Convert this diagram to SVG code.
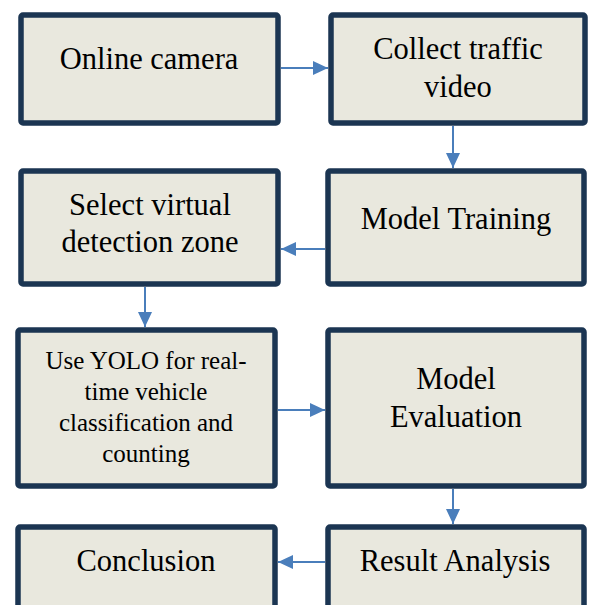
<svg xmlns="http://www.w3.org/2000/svg" width="589" height="605" viewBox="0 0 589 605">
<style>
.box{fill:#E9E8DE;stroke:#1B3552;stroke-width:5.5}
.t{font-family:"Liberation Serif","Times New Roman",serif;font-size:30.5px;fill:#000;text-anchor:middle}
.s{font-size:25px}
.c{stroke:#4A7EBB;stroke-width:2;fill:none}
</style>
<defs>
<marker id="ah" markerUnits="userSpaceOnUse" markerWidth="16" markerHeight="16" refX="15" refY="8" orient="auto">
<path d="M0,1 L15,8 L0,15 Z" fill="#4A7EBB"/>
</marker>
</defs>
<rect width="589" height="605" fill="#fff"/>
<g id="connectors">
<line class="c" x1="281" y1="68" x2="328" y2="68" marker-end="url(#ah)"/>
<line class="c" x1="453" y1="126" x2="453" y2="168" marker-end="url(#ah)"/>
<line class="c" x1="325" y1="249" x2="281" y2="249" marker-end="url(#ah)"/>
<line class="c" x1="145" y1="287" x2="145" y2="327" marker-end="url(#ah)"/>
<line class="c" x1="278" y1="410" x2="325" y2="410" marker-end="url(#ah)"/>
<line class="c" x1="453" y1="489" x2="453" y2="524" marker-end="url(#ah)"/>
<line class="c" x1="325" y1="562" x2="278" y2="562" marker-end="url(#ah)"/>
</g>
<g id="online-camera">
<rect class="box" x="21" y="15" width="257" height="108" rx="2"/>
<text class="t" x="149" y="69">Online camera</text>
</g>
<g id="collect-traffic-video">
<rect class="box" x="331" y="15" width="254" height="108" rx="2"/>
<text class="t" x="458" y="59">Collect traffic</text>
<text class="t" x="458" y="97">video</text>
</g>
<g id="select-zone">
<rect class="box" x="21" y="171" width="257" height="113" rx="2"/>
<text class="t" x="150" y="215">Select virtual</text>
<text class="t" x="150" y="252">detection zone</text>
</g>
<g id="model-training">
<rect class="box" x="328" y="171" width="256" height="113" rx="2"/>
<text class="t" x="456" y="229">Model Training</text>
</g>
<g id="use-yolo">
<rect class="box" x="18" y="330" width="257" height="156" rx="2"/>
<text class="t s" x="146" y="369">Use YOLO for real-</text>
<text class="t s" x="146" y="400">time vehicle</text>
<text class="t s" x="146" y="431">classification and</text>
<text class="t s" x="146" y="462">counting</text>
</g>
<g id="model-evaluation">
<rect class="box" x="328" y="330" width="256" height="156" rx="2"/>
<text class="t" x="456" y="389">Model</text>
<text class="t" x="456" y="427">Evaluation</text>
</g>
<g id="conclusion">
<rect class="box" x="18" y="527" width="257" height="95" rx="2"/>
<text class="t" x="146" y="571">Conclusion</text>
</g>
<g id="result-analysis">
<rect class="box" x="328" y="527" width="256" height="95" rx="2"/>
<text class="t" x="455" y="571">Result Analysis</text>
</g>
</svg>
